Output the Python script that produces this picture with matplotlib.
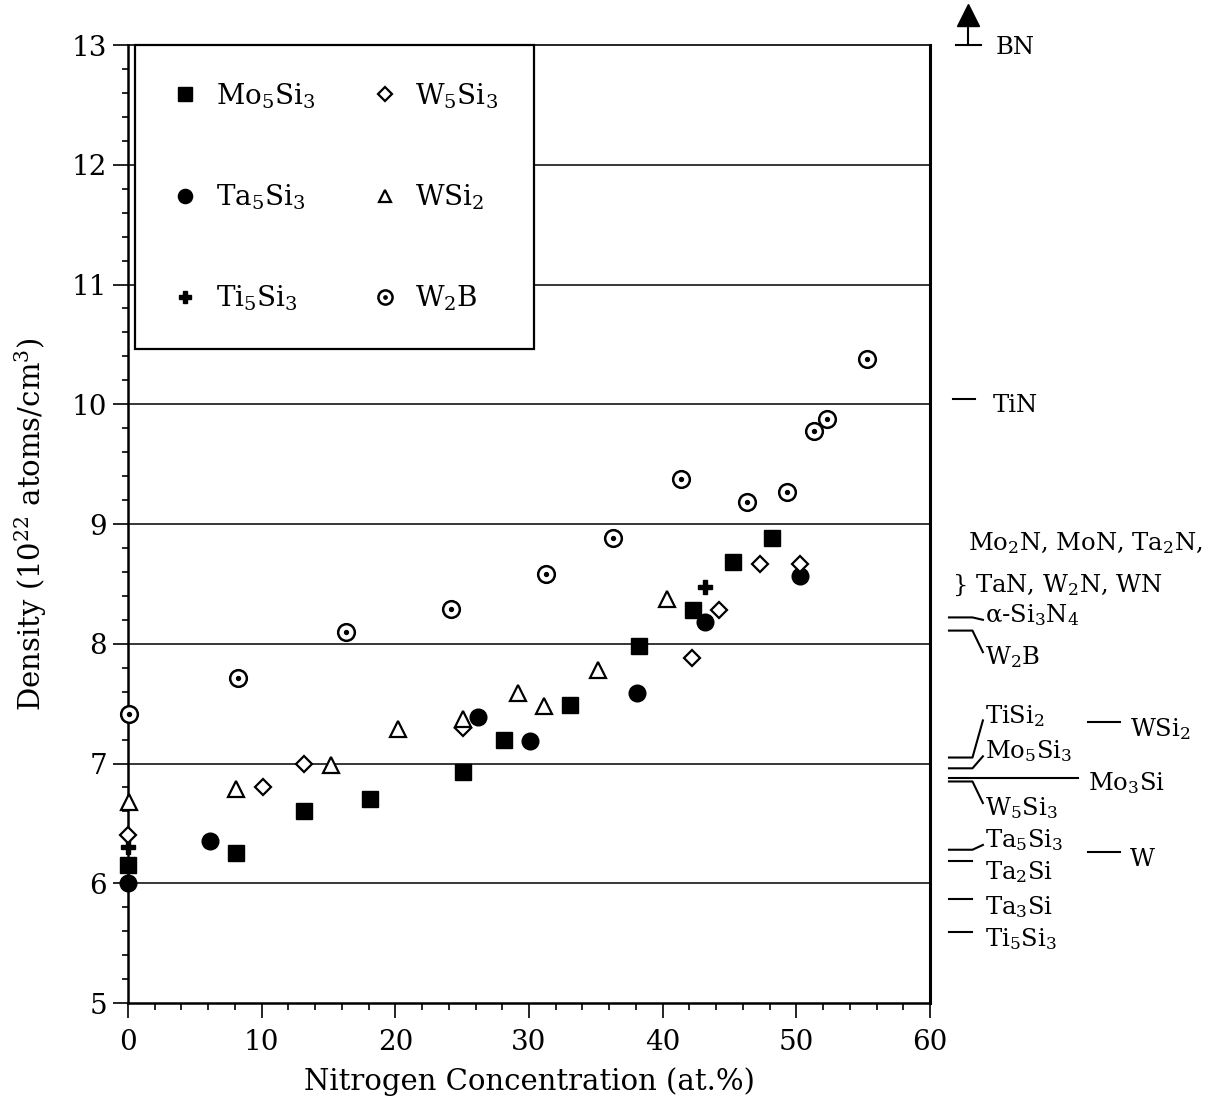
import matplotlib
matplotlib.use("Agg")
import matplotlib.pyplot as plt
import numpy as np
from matplotlib.legend_handler import HandlerTuple

plt.rcParams['font.family'] = ['DejaVu Serif']
plt.rcParams['mathtext.fontset'] = 'dejavuserif'

# nitrogen concentration (at.%) and density (1e22 atoms/cm3) per barrier
mo5si3_x = [0, 8.1, 13.2, 18.1, 25.1, 28.1, 33.1, 38.2, 42.3, 45.3, 48.2]
mo5si3_y = [6.15, 6.25, 6.6, 6.7, 6.93, 7.2, 7.49, 7.98, 8.28, 8.68, 8.88]

ta5si3_x = [0, 6.1, 26.2, 30.1, 38.1, 43.2, 50.3]
ta5si3_y = [6.0, 6.35, 7.39, 7.19, 7.59, 8.18, 8.57]

ti5si3_x = [0, 43.2]
ti5si3_y = [6.3, 8.47]

w5si3_x = [0, 10.1, 13.2, 25.1, 42.2, 44.2, 47.3, 50.3]
w5si3_y = [6.4, 6.8, 7.0, 7.3, 7.88, 8.28, 8.67, 8.67]

wsi2_x = [0.1, 8.1, 15.2, 20.2, 25.1, 29.2, 31.1, 35.2, 40.3]
wsi2_y = [6.68, 6.79, 6.99, 7.29, 7.37, 7.59, 7.48, 7.78, 8.37]

w2b_x = [0.1, 8.2, 16.3, 24.2, 31.3, 36.3, 41.4, 46.3, 49.3, 51.3, 52.3, 55.3]
w2b_y = [7.41, 7.71, 8.1, 8.29, 8.58, 8.88, 9.38, 9.18, 9.27, 9.78, 9.88, 10.38]

# bulk densities marked beside the right axis
lead_names = ['TiSi$_2$', 'Mo$_5$Si$_3$', 'W$_5$Si$_3$', 'Ta$_5$Si$_3$',
              'Ta$_2$Si', 'Ta$_3$Si', 'Ti$_5$Si$_3$', 'α-Si$_3$N$_4$', 'W$_2$B']
lead_dens = [7.05, 6.96, 6.85, 6.28, 6.19, 5.87, 5.59, 8.22, 8.11]
lead_text_y = [7.40, 7.10, 6.63, 6.36, 6.09, 5.80, 5.53, 8.24, 7.89]
lead_bent = [True, True, True, True, False, False, False, True, True]

far_names = ['WSi$_2$', 'W']
far_dens = [7.35, 6.26]

mo3si_dens = 6.88
tin_dens = 10.04
nitride_dens = 8.49
bn_dens = 13.0

fig = plt.figure(figsize=(12.12, 11.01), dpi=100)
ax = fig.add_axes([0.1056, 0.0890, 0.6617, 0.8701])

for g in range(6, 13):
    ax.axhline(g, color='black', lw=1.1, zorder=1)

ms_kw = dict(ls='none', clip_on=False, zorder=3)
h_mo, = ax.plot(mo5si3_x, mo5si3_y, marker='s', ms=12, color='black', **ms_kw)
h_ta, = ax.plot(ta5si3_x, ta5si3_y, marker='o', ms=12, color='black', **ms_kw)
h_ti, = ax.plot(ti5si3_x, ti5si3_y, marker='P', ms=10, color='black', **ms_kw)
h_w5, = ax.plot(w5si3_x, w5si3_y, marker='D', ms=7.8, mfc='white', mec='black', mew=1.6, **ms_kw)
h_ws, = ax.plot(wsi2_x, wsi2_y, marker='^', ms=11, mfc='white', mec='black', mew=1.6, **ms_kw)
h_wb, = ax.plot(w2b_x, w2b_y, marker='o', ms=12, mfc='white', mec='black', mew=1.8, **ms_kw)
h_wd, = ax.plot(w2b_x, w2b_y, marker='o', ms=2.8, color='black', **ms_kw)

leg = ax.legend([h_mo, h_ta, h_ti, h_w5, h_ws, (h_wb, h_wd)],
                ['Mo$_5$Si$_3$', 'Ta$_5$Si$_3$', 'Ti$_5$Si$_3$',
                 'W$_5$Si$_3$', 'WSi$_2$', 'W$_2$B'],
                handler_map={tuple: HandlerTuple(ndivide=1, pad=0)},
                ncol=2, loc='upper left', bbox_to_anchor=(0.0087, 1.0),
                borderaxespad=0, fontsize=20, frameon=True, fancybox=False,
                edgecolor='black', framealpha=1, markerscale=0.85,
                handlelength=1.0, handletextpad=0.6, columnspacing=2.0,
                labelspacing=2.58, borderpad=1.3)
leg.get_frame().set_linewidth(1.6)
leg.set_zorder(5)

ax.set_xlim(0, 60)
ax.set_ylim(5, 13)
ax.set_xticks(np.arange(0, 61, 10))
ax.set_xticks(np.arange(0, 61, 2), minor=True)
ax.set_yticks(np.arange(5, 14, 1))
ax.set_yticks(np.arange(5, 13.01, 0.2), minor=True)
ax.tick_params(which='both', direction='out', top=False, right=False,
               labelsize=20, width=1.2)
ax.tick_params(axis='y', which='major', length=11, pad=4)
ax.tick_params(axis='y', which='minor', length=4)
ax.tick_params(axis='x', which='major', length=11, pad=8)
ax.tick_params(axis='x', which='minor', length=5)
for side, lw in [('left', 1.8), ('bottom', 1.8), ('right', 2.2), ('top', 1.2)]:
    ax.spines[side].set_linewidth(lw)

ax.set_xlabel('Nitrogen Concentration (at.%)', fontsize=21, labelpad=8)
ax.set_ylabel('Density (10$^{22}$ atoms/cm$^3$)', fontsize=21, labelpad=16)

# right-hand reference densities
tr = ax.get_yaxis_transform()
line_kw = dict(color='black', lw=1.5, clip_on=False, transform=tr)
txt_kw = dict(fontsize=17.5, transform=tr, va='center', ha='left')

for name, d, ty, bent in zip(lead_names, lead_dens, lead_text_y, lead_bent):
    if bent:
        end_y = ty - 0.04 * np.sign(ty - d)
        ax.plot([1.0237, 1.053, 1.066], [d, d, end_y], **line_kw)
    else:
        ax.plot([1.0237, 1.053], [d, d], **line_kw)
    ax.text(1.0686, ty, name, **txt_kw)

ax.plot([1.0237, 1.1845], [mo3si_dens, mo3si_dens], **line_kw)
ax.text(1.197, mo3si_dens - 0.04, 'Mo$_3$Si', **txt_kw)

for name, d in zip(far_names, far_dens):
    ax.plot([1.197, 1.237], [d, d], **line_kw)
    ax.text(1.249, d - 0.06, name, **txt_kw)

ax.plot([1.0287, 1.056], [tin_dens, tin_dens], **line_kw)
ax.text(1.0786, tin_dens - 0.05, 'TiN', **txt_kw)

ax.text(1.047, nitride_dens + 0.35, 'Mo$_2$N, MoN, Ta$_2$N,', **txt_kw)
ax.text(1.027, nitride_dens, '} TaN, W$_2$N, WN', **txt_kw)

ax.plot([1.0324, 1.0636], [bn_dens, bn_dens], **line_kw)
ax.plot([1.048, 1.048], [bn_dens, bn_dens + 0.17], **line_kw)
ax.plot([1.048], [bn_dens + 0.25], marker='^', ms=16, color='black',
        clip_on=False, transform=tr)
ax.text(1.0823, bn_dens - 0.02, 'BN', **txt_kw)

fig.savefig('out.png', dpi=100)
